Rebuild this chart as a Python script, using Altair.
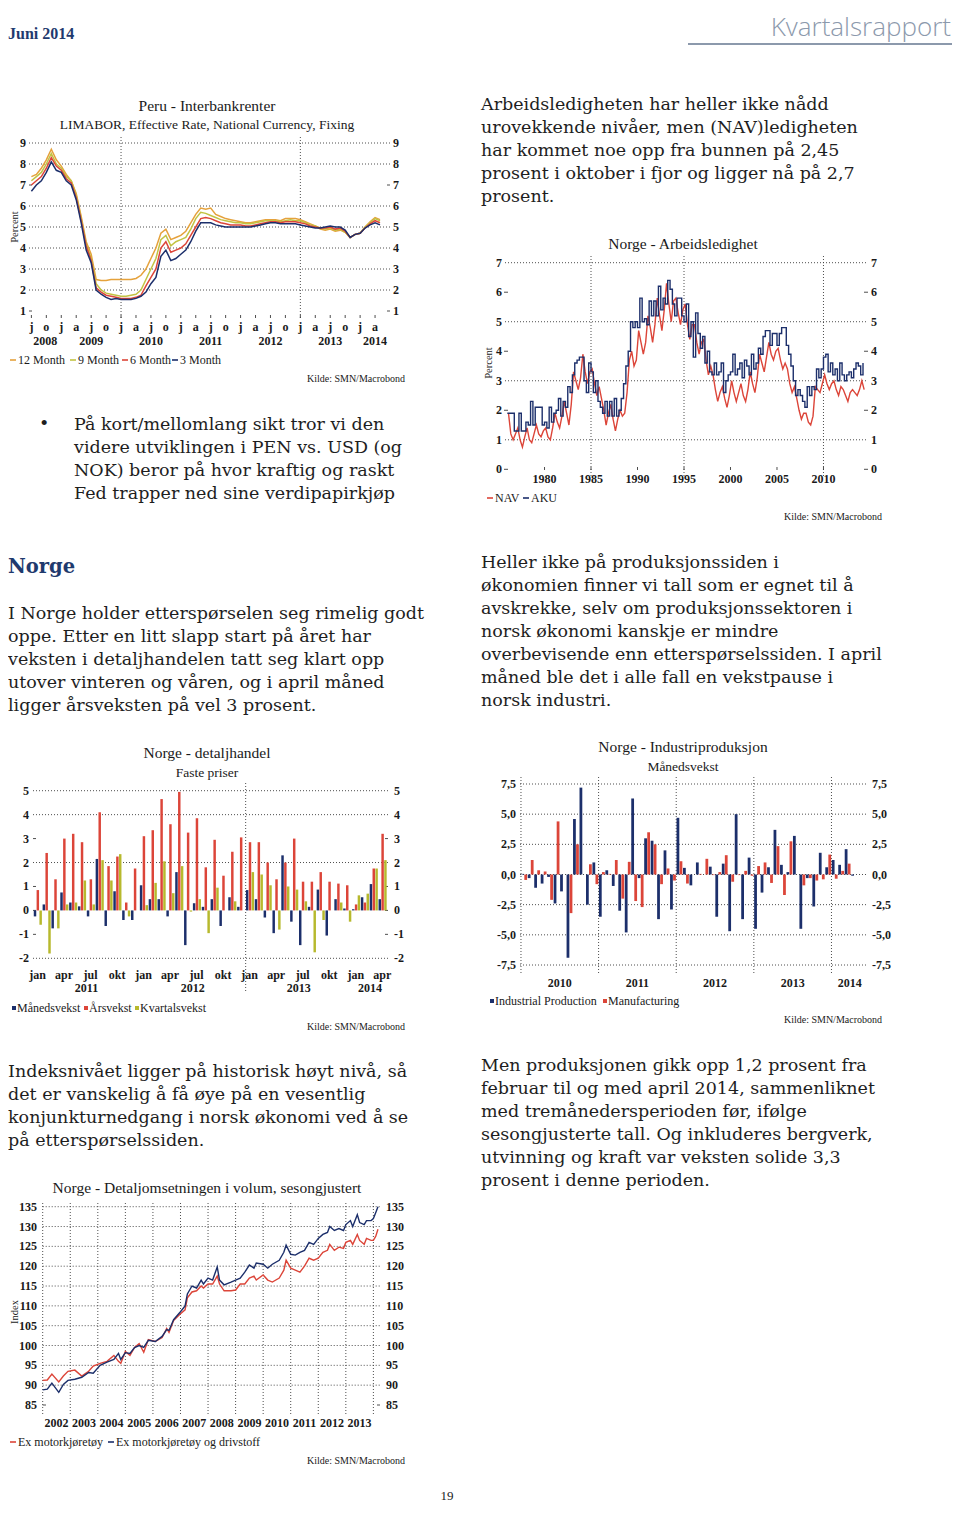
import altair as alt
import pandas as pd

# ======================= DATA =======================
# Peru - Interbankrenter, monthly Jul 2008 .. May 2014
PERU_START = (2008, 7)
PERU_12M = [7.4, 7.5, 7.8, 8.2, 8.7, 8.2,
            7.9, 7.5, 7.2, 6.6, 5.5, 4.3, 3.7, 2.5, 2.45, 2.45, 2.5, 2.5,
            2.5, 2.5, 2.5, 2.55, 2.7, 3.0, 3.5, 4.0, 4.7, 4.9, 4.4, 4.5,
            4.6, 4.8, 5.2, 5.6, 5.9, 5.85, 5.9, 5.6, 5.5, 5.4, 5.35, 5.3,
            5.25, 5.2, 5.2, 5.25, 5.3, 5.35, 5.35, 5.35, 5.3, 5.4, 5.4, 5.4,
            5.35, 5.25, 5.15, 5.05, 4.9, 4.85, 4.9, 4.8, 4.85, 4.75, 4.5, 4.65,
            4.7, 5.0, 5.25, 5.45, 5.35]
PERU_9M = [7.2, 7.4, 7.6, 8.0, 8.5, 8.0,
           7.8, 7.4, 7.2, 6.5, 5.4, 4.2, 3.5, 2.3, 2.0, 1.85, 1.8, 1.75,
           1.7, 1.7, 1.75, 1.8, 2.0, 2.5, 3.0, 3.5, 4.4, 4.6, 4.1, 4.3,
           4.4, 4.5, 4.9, 5.4, 5.7, 5.65, 5.55, 5.45, 5.35, 5.3, 5.25, 5.2,
           5.2, 5.15, 5.15, 5.2, 5.25, 5.3, 5.3, 5.3, 5.25, 5.3, 5.35, 5.3,
           5.3, 5.2, 5.1, 5.05, 4.95, 4.9, 4.95, 4.85, 4.9, 4.75, 4.5, 4.65,
           4.7, 5.0, 5.2, 5.4, 5.3]
PERU_6M = [7.0, 7.2, 7.4, 7.8, 8.3, 7.9,
           7.7, 7.3, 7.1, 6.4, 5.3, 4.1, 3.4, 2.1, 1.9, 1.75, 1.7, 1.65,
           1.6, 1.6, 1.6, 1.65, 1.75, 2.2, 2.6, 3.0, 4.0, 4.3, 3.8, 3.9,
           4.0, 4.2, 4.6, 5.0, 5.4, 5.45, 5.4, 5.3, 5.2, 5.15, 5.1, 5.1,
           5.1, 5.05, 5.05, 5.1, 5.15, 5.2, 5.25, 5.25, 5.2, 5.25, 5.25, 5.25,
           5.2, 5.15, 5.05, 5.0, 4.95, 4.95, 5.0, 4.9, 4.95, 4.8, 4.5, 4.65,
           4.7, 4.95, 5.15, 5.3, 5.2]
PERU_3M = [6.7, 7.0, 7.2, 7.6, 8.1, 7.7,
           7.6, 7.2, 7.0, 6.3, 5.2, 3.9, 3.3, 2.0, 1.8, 1.65, 1.55, 1.6,
           1.55, 1.55, 1.55, 1.6, 1.7, 1.9, 2.3, 2.6, 3.6, 3.9, 3.4, 3.5,
           3.7, 3.9, 4.3, 4.8, 5.2, 5.2, 5.2, 5.1, 5.05, 5.0, 5.0, 5.0,
           5.0, 5.0, 5.0, 5.05, 5.1, 5.15, 5.2, 5.2, 5.15, 5.15, 5.15, 5.15,
           5.1, 5.05, 5.0, 4.95, 4.95, 5.0, 5.05, 5.0, 5.0, 4.85, 4.5, 4.65,
           4.7, 4.95, 5.1, 5.2, 5.1]
PERU_SERIES = ["12 Month", "9 Month", "6 Month", "3 Month"]
PERU_YEARS = ["2008", "2009", "2010", "2011", "2012", "2013", "2014"]
PERU_Q_LETTERS = ["j", "o", "j", "a"]  # Jul, Oct, Jan, Apr

# Norge - Arbeidsledighet, quarterly 1976Q1 .. 2014Q2
ARB_START = 1976
NAV = [1.9, 1.2, 1.0, 1.2, 1.4, 1.0, 0.75, 1.1, 1.4, 1.0, 0.9, 1.2, 1.5, 1.2, 1.1, 1.3,
       1.4, 1.1, 1.0, 1.4, 1.9, 1.6, 1.4, 1.8, 2.3, 1.9, 1.5, 2.2, 3.3, 3.0, 2.7, 3.1,
       3.9, 3.3, 2.9, 3.3, 3.4, 2.9, 2.5, 2.8, 2.4, 2.0, 1.5, 1.9, 2.2, 1.7, 1.3, 1.7,
       2.0, 1.8, 1.9, 2.6, 3.7, 4.0, 3.5, 3.7, 4.7, 4.3, 3.9, 4.3, 5.2, 4.8, 4.3, 4.9,
       5.8, 5.2, 4.7, 5.4, 6.3, 5.6, 5.0, 5.7, 5.8, 5.3, 4.9, 5.4, 5.6, 4.9, 4.4, 4.9,
       4.9, 4.3, 3.9, 4.3, 4.4, 3.7, 3.2, 3.5, 3.2, 2.7, 2.3, 2.6, 2.8, 2.4, 2.1, 2.5,
       3.0, 2.6, 2.3, 2.6, 2.9, 2.5, 2.3, 2.7, 3.3, 2.9, 2.6, 3.1, 3.9, 3.6, 3.3, 3.8,
       4.3, 3.9, 3.7, 4.0, 4.1, 3.7, 3.4, 3.6, 3.4, 2.9, 2.6, 2.8, 2.4, 2.0, 1.7, 1.9,
       1.9, 1.6, 1.5, 1.8, 2.8, 2.7, 2.6, 2.9, 3.2, 2.9, 2.7, 2.9, 3.0, 2.7, 2.5, 2.8,
       2.7, 2.5, 2.3, 2.6, 2.7, 2.6, 2.5, 2.7, 3.0, 2.7]
AKU = [1.9, 1.9, 1.9, 1.3, 1.3, 1.9, 1.3, 1.3, 1.6, 1.5, 2.3, 1.5, 2.1, 2.1, 2.1, 1.5,
       1.6, 1.4, 2.1, 1.6, 1.9, 2.0, 2.4, 1.8, 2.3, 2.1, 2.8, 2.6, 3.2, 3.6, 3.7, 3.8,
       3.8, 3.0, 2.6, 3.6, 3.3, 2.6, 3.0, 2.3, 2.1, 1.9, 2.3, 1.8, 2.3, 1.8, 2.4, 1.8,
       2.0, 2.4, 2.9, 3.5, 4.0, 5.0, 4.8, 5.0, 4.8, 5.8, 5.0, 5.1, 4.9, 5.7, 5.2, 5.7,
       5.2, 6.2, 5.4, 5.8, 5.6, 6.4, 6.1, 5.6, 5.2, 5.8, 5.8, 5.2, 5.0, 5.6, 4.5, 5.0,
       3.8, 5.3, 4.6, 4.1, 4.5, 3.6, 4.0, 3.3, 3.2, 3.6, 3.2, 3.3, 3.6, 2.6, 3.0, 3.2,
       3.3, 3.9, 3.2, 3.4, 3.6, 3.1, 3.7, 3.5, 3.2, 3.9, 3.4, 3.6, 4.1, 3.9, 4.5, 4.7,
       4.7, 4.2, 4.6, 4.6, 4.2, 4.6, 4.8, 4.8, 4.2, 3.9, 3.5, 3.0, 2.5, 2.7, 2.5, 2.3,
       2.1, 2.8, 2.5, 2.8, 2.7, 3.4, 3.1, 3.4, 3.8, 3.9, 3.3, 3.6, 3.2, 3.4, 3.0, 3.6,
       3.2, 3.0, 3.2, 3.3, 3.1, 3.4, 3.6, 3.5, 3.2, 3.6]
ARB_YEARS = [1980, 1985, 1990, 1995, 2000, 2005, 2010]

# Norge - detaljhandel, monthly Jan 2011 .. Apr 2014
DH_MND = [-0.25, 0.25, -0.75, 0.75, 0.33, 0.17, -0.25, 2.15, -0.65, 0.8, -0.4, -0.4,
          1.05, 0.47, 0.47, -0.25, 1.6, -1.45, 0.3, 0.15, 0.47, -0.65, 0.55, 0.15,
          0.85, 0.47, -0.3, -0.95, 2.3, -0.47, -1.45, 0.15, 0.87, -1.05, 0.47, 0.08,
          0.05, 0.55, 1.1, 0.47]
DH_AAR = [0.85, 2.4, 1.3, 3.0, 3.2, 2.85, 1.3, 4.1, 1.85, 2.25, 0.33, 1.75,
          3.1, 3.35, 4.65, 3.6, 4.95, 3.25, 3.85, 1.8, 2.95, 1.45, 2.45, 3.05,
          2.85, 2.85, 2.0, 1.3, 2.0, 3.0, 1.2, 1.2, 1.6, 1.2, 1.12, 1.05,
          0.25, 0.33, 1.75, 3.2]
DH_KV = [-0.6, -1.8, -0.75, 0.25, 0.33, 1.25, 0.25, 2.1, 1.25, 2.35, -0.25, 0.0,
         0.22, 1.15, 2.05, 0.72, 1.85, -0.05, 0.47, -0.95, 0.95, 0.0, 0.38, 0.0,
         1.6, 1.5, 1.05, -0.8, 1.0, 0.87, 0.38, -1.75, -0.4, 0.0, 0.33, -0.47,
         0.63, 0.7, 1.75, 2.1]
DH_SERIES = ["Månedsvekst", "Årsvekst", "Kvartalsvekst"]
DH_MONTH_LABELS = ["jan", "apr", "jul", "okt"]
DH_YEARS = ["2011", "2012", "2013", "2014"]

# Norge - Industriproduksjon, monthly Jan 2010 .. Apr 2014
IP = [0.05, -0.3, -1.1, -0.75, -0.2, -2.4, -1.4, -6.9, 4.6, 7.2, -2.5, 1.0,
      -3.5, 0.35, -0.95, -3.0, -4.8, 6.3, -0.3, 3.0, 2.8, -3.7, 2.0, -2.9,
      4.7, 0.55, -0.9, 1.0, 0.0, 0.65, -3.5, 0.9, -4.7, 5.0, -3.7, 1.4,
      -4.5, -1.5, 0.6, 3.7, 0.8, 0.2, 3.2, -4.5, -0.3, -2.65, 1.8, 0.6,
      1.2, 0.8, 2.1, -0.1]
MF = [-0.45, 1.2, 0.35, 0.25, -2.1, 4.4, 0.0, -3.2, 2.5, 0.0, 0.85, -0.8,
      0.2, 0.05, 1.2, -2.0, 1.05, -2.2, -2.7, 3.5, 2.5, -0.8, 0.5, -0.5,
      1.1, -0.75, 0.0, 0.05, 1.3, -0.05, 0.2, 1.6, -0.6, -0.05, 0.3, -0.1,
      0.7, 1.0, -0.7, 2.35, -1.7, 2.75, 0.0, -0.9, -0.3, -0.5, -0.4, 1.65,
      -0.35, 0.3, 0.9, 0.0]
IP_SERIES = ["Industrial Production", "Manufacturing"]
IP_YEARS = ["2010", "2011", "2012", "2013", "2014"]
IP_TICKS = [-7.5, -5.0, -2.5, 0.0, 2.5, 5.0, 7.5]

# Norge - Detaljomsetningen i volum, sesongjustert
DO_DATES = ["2002-01", "2002-03", "2002-05", "2002-08", "2002-10", "2002-12",
            "2003-03", "2003-06", "2003-09", "2003-11",
            "2004-02", "2004-05", "2004-08", "2004-10", "2004-11",
            "2005-01", "2005-03", "2005-05", "2005-07", "2005-09", "2005-11",
            "2006-02", "2006-05", "2006-07", "2006-08", "2006-10",
            "2007-01", "2007-03", "2007-04", "2007-06", "2007-08", "2007-10", "2007-11",
            "2008-01", "2008-03", "2008-05", "2008-06", "2008-08", "2008-11",
            "2009-01", "2009-03", "2009-05", "2009-07", "2009-09", "2009-10",
            "2010-01", "2010-03", "2010-05", "2010-08", "2010-10", "2010-11",
            "2011-01", "2011-03", "2011-05", "2011-07", "2011-09", "2011-11",
            "2012-01", "2012-03", "2012-05", "2012-06", "2012-08", "2012-10", "2012-12",
            "2013-01", "2013-03", "2013-04", "2013-06", "2013-07", "2013-09", "2013-10", "2013-12",
            "2014-01", "2014-02", "2014-03"]
DO_EX_MOTOR = [91.2, 91.3, 92.8, 90.8, 92.3, 93.5, 93.8, 92.3, 93.5, 94.8,
               95.5, 96.0, 97.5, 96.0, 95.5, 98.5, 97.5, 99.5, 100.5, 98.3, 101.5,
               101.0, 102.0, 104.3, 103.3, 106.3, 108.0, 109.0, 112.0, 113.5, 113.8, 115.0, 114.5,
               115.5, 115.5, 117.5, 115.5, 113.8, 113.8, 114.0, 115.5, 115.5, 117.0, 117.5, 116.5,
               117.8, 116.5, 116.0, 117.0, 119.0, 121.5, 119.5, 119.0, 118.5, 120.0, 122.0, 121.5,
               122.0, 123.5, 124.0, 125.5, 124.0, 124.8, 124.5,
               126.0, 126.5, 125.5, 128.0, 126.5, 125.5, 127.0, 126.5, 126.5, 127.5, 129.3]
DO_EX_MOTOR_DRIV = [88.8, 89.0, 90.5, 88.2, 90.2, 91.2, 91.5, 92.0, 93.2, 93.0,
                    95.0, 95.8, 96.5, 98.0, 96.5, 98.2, 98.0, 99.5, 100.0, 99.5, 101.3,
                    101.0, 102.3, 104.0, 103.8, 106.5, 108.5, 110.0, 113.0, 115.0, 114.5, 116.5, 115.5,
                    117.0, 116.5, 119.8, 116.5, 115.3, 116.0, 116.5, 117.0, 118.5, 120.3, 119.5, 120.8,
                    120.5, 119.5, 120.5, 121.5, 123.5, 125.3, 123.0, 122.8, 123.5, 124.0, 126.0, 125.5,
                    127.0, 128.0, 128.5, 130.0, 129.0, 129.5, 129.0,
                    130.5, 131.5, 130.0, 133.0, 131.0, 130.5, 131.5, 131.5, 132.0, 133.5, 135.0]
DO_SERIES = ["Ex motorkjøretøy", "Ex motorkjøretøy og drivstoff"]
DO_YEARS = [str(y) for y in range(2002, 2014)]

# ======================= STYLE / LAYOUT =======================
OX, OY = 8, 8
W, H = 944, 1496
NAVY = "#1c2f6b"
RED = "#dc4539"
OLIVE = "#b7b92d"
ORANGE = "#e5a23c"
YGREEN = "#c2c343"
GRID = "#3a3a3a"
TXT = "#1a1a1a"
BODY = "#1e1e1e"
FC = "Liberation Serif"
FB = "DejaVu Serif"
TICK = 12
TITLE = 15.5
SUB = 13.5
LEG = 12

layers = []


def xscale(dom, x0, x1):
    return alt.Scale(domain=list(dom), range=[x0 - OX, x1 - OX], nice=False, zero=False)


def yscale(dom, yb, yt):
    return alt.Scale(domain=list(dom), range=[yb - OY, yt - OY], nice=False, zero=False)


def hrules(vals, ys, x0, x1, dash=True, color=GRID, width=0.9):
    kw = dict(color=color, strokeWidth=width)
    if dash:
        kw["strokeDash"] = [1, 2]
    return alt.Chart(pd.DataFrame({"v": list(vals)})).mark_rule(**kw).encode(
        y=alt.Y("v:Q", scale=ys, axis=None), x=alt.value(x0 - OX), x2=alt.value(x1 - OX))


def vrules(vals, xs, y0, y1, dash=True, color=GRID, width=0.9):
    kw = dict(color=color, strokeWidth=width)
    if dash:
        kw["strokeDash"] = [1, 2]
    return alt.Chart(pd.DataFrame({"v": list(vals)})).mark_rule(**kw).encode(
        x=alt.X("v:Q", scale=xs, axis=None), y=alt.value(y0 - OY), y2=alt.value(y1 - OY))


def ytexts(vals, labels, ys, xpos, align, size=TICK):
    df = pd.DataFrame({"v": list(vals), "l": list(labels)})
    return alt.Chart(df).mark_text(align=align, baseline="middle", font=FC, fontSize=size,
                                   fontWeight="bold", color=TXT).encode(
        y=alt.Y("v:Q", scale=ys, axis=None), x=alt.value(xpos - OX), text="l:N")


def xtexts(vals, labels, xs, ypos, size=TICK):
    df = pd.DataFrame({"v": list(vals), "l": list(labels)})
    return alt.Chart(df).mark_text(align="center", baseline="middle", font=FC, fontSize=size,
                                   fontWeight="bold", color=TXT).encode(
        x=alt.X("v:Q", scale=xs, axis=None), y=alt.value(ypos - OY), text="l:N")


def line(df, xs, ys, color, width=1.3, interp="linear"):
    return alt.Chart(df).mark_line(color=color, strokeWidth=width, interpolate=interp).encode(
        x=alt.X("t:Q", scale=xs, axis=None), y=alt.Y("v:Q", scale=ys, axis=None))


def bars(df, xs, ys, color):
    return alt.Chart(df).mark_rect(color=color).encode(
        x=alt.X("a:Q", scale=xs, axis=None), x2="b:Q",
        y=alt.Y("v:Q", scale=ys, axis=None), y2="z:Q")


def page_text(rows, align="left", size=17.5, font=FB, weight="normal", color=BODY,
              angle=0, baseline="middle"):
    df = pd.DataFrame(rows, columns=["x", "y", "t"])
    df["x"] = df["x"] - OX
    df["y"] = df["y"] - OY
    return alt.Chart(df).mark_text(align=align, baseline=baseline, font=font, fontSize=size,
                                   fontWeight=weight, color=color, angle=angle).encode(
        x=alt.X("x:Q", scale=None, axis=None), y=alt.Y("y:Q", scale=None, axis=None), text="t:N")


def page_rules(rows, width=1.6):
    df = pd.DataFrame(rows, columns=["x", "x2", "y", "c"])
    df["x"] -= OX
    df["x2"] -= OX
    df["y"] -= OY
    return alt.Chart(df).mark_rule(strokeWidth=width).encode(
        x=alt.X("x:Q", scale=None, axis=None), x2="x2:Q",
        y=alt.Y("y:Q", scale=None, axis=None), color=alt.Color("c:N", scale=None))


def page_squares(rows):
    df = pd.DataFrame(rows, columns=["x", "x2", "y", "y2", "c"])
    df["x"] -= OX
    df["x2"] -= OX
    df["y"] -= OY
    df["y2"] -= OY
    return alt.Chart(df).mark_rect().encode(
        x=alt.X("x:Q", scale=None, axis=None), x2="x2:Q",
        y=alt.Y("y:Q", scale=None, axis=None), y2="y2:Q", color=alt.Color("c:N", scale=None))


def paragraph(lines, x, y0, lh=23):
    return [(x, y0 + i * lh, s) for i, s in enumerate(lines)]


def ctext(rows, align="left", size=LEG, angle=0):
    return page_text(rows, align=align, size=size, font=FC, color=TXT, angle=angle)


def kilde(x, y):
    return ctext([(x, y, "Kilde: SMN/Macrobond")], align="right", size=10)


# ======================= HEADER / TEXT =======================
layers.append(page_text([(8, 34, "Juni 2014")], size=16, font=FC, weight="bold", color="#1f3a6e"))
layers.append(page_text([(951, 36, "Kvartalsrapport")], align="right", size=26, font="Open Sans",
                        weight=300, color="#8c99ac", baseline="alphabetic"))
layers.append(page_rules([(688, 952, 44, "#8c99ac")], width=2))

body_rows = []
body_rows += paragraph(["Arbeidsledigheten har heller ikke nådd",
                        "urovekkende nivåer, men (NAV)ledigheten",
                        "har kommet noe opp fra bunnen på 2,45",
                        "prosent i oktober i fjor og ligger nå på 2,7",
                        "prosent."], 481, 105)
body_rows += paragraph(["På kort/mellomlang sikt tror vi den",
                        "videre utviklingen i PEN vs. USD (og",
                        "NOK) beror på hvor kraftig og raskt",
                        "Fed trapper ned sine verdipapirkjøp"], 74, 425)
body_rows += paragraph(["I Norge holder etterspørselen seg rimelig godt",
                        "oppe. Etter en litt slapp start på året har",
                        "veksten i detaljhandelen tatt seg klart opp",
                        "utover vinteren og våren, og i april måned",
                        "ligger årsveksten på vel 3 prosent."], 8, 614)
body_rows += paragraph(["Heller ikke på produksjonssiden i",
                        "økonomien finner vi tall som er egnet til å",
                        "avskrekke, selv om produksjonssektoren i",
                        "norsk økonomi kanskje er mindre",
                        "overbevisende enn etterspørselssiden. I april",
                        "måned ble det i alle fall en vekstpause i",
                        "norsk industri."], 481, 563)
body_rows += paragraph(["Indeksnivået ligger på historisk høyt nivå, så",
                        "det er vanskelig å få øye på en vesentlig",
                        "konjunkturnedgang i norsk økonomi ved å se",
                        "på etterspørselssiden."], 8, 1072)
body_rows += paragraph(["Men produksjonen gikk opp 1,2 prosent fra",
                        "februar til og med april 2014, sammenliknet",
                        "med tremånedersperioden før, ifølge",
                        "sesongjusterte tall. Og inkluderes bergverk,",
                        "utvinning og kraft var veksten solide 3,3",
                        "prosent i denne perioden."], 481, 1066)
body_rows.append((39, 424, "•"))
layers.append(page_text(body_rows))
layers.append(page_text([(8, 567, "Norge")], size=19.5, weight="bold", color="#1f3a6e"))
layers.append(page_text([(447, 1503, "19")], align="center", size=13, font=FC, color=TXT,
                        baseline="bottom"))

# ======================= PERU =======================
xs = xscale([2008.46, 2014.5], 29, 390)
ys = yscale([1, 9], 311, 143)
layers += [
    hrules([2, 3, 4, 5, 6, 8, 9], ys, 29, 390),
    hrules([1, 7], ys, 29, 32, dash=False), hrules([1, 7], ys, 387, 390, dash=False),
    vrules([2010, 2013], xs, 137, 320),
    ytexts(range(1, 10), [str(v) for v in range(1, 10)], ys, 26, "right"),
    ytexts(range(1, 10), [str(v) for v in range(1, 10)], ys, 393, "left"),
]
q_t = [2008.5 + 0.25 * k for k in range(24)]
layers.append(xtexts(q_t, [PERU_Q_LETTERS[k % 4] for k in range(24)], xs, 327))
layers.append(vrules(q_t, xs, 315, 318, dash=False))
ymid = [(max(2008.46, y) + min(2014.5, y + 1)) / 2 for y in range(2008, 2015)]
layers.append(xtexts(ymid, PERU_YEARS, xs, 341))
t_peru = [PERU_START[0] + (PERU_START[1] - 1 + k) / 12 for k in range(len(PERU_3M))]
for vals, col in [(PERU_12M, ORANGE), (PERU_9M, YGREEN), (PERU_6M, RED), (PERU_3M, NAVY)]:
    layers.append(line(pd.DataFrame({"t": t_peru, "v": vals}), xs, ys, col, width=1.5))
layers.append(ctext([(207, 106, "Peru - Interbankrenter")], align="center", size=TITLE))
layers.append(ctext([(207, 125, "LIMABOR, Effective Rate, National Currency, Fixing")],
                    align="center", size=SUB))
layers.append(ctext([(15, 227, "Percent")], align="center", size=10.5, angle=270))
layers.append(page_rules([(10, 16, 360, ORANGE), (70, 76, 360, YGREEN), (122, 128, 360, RED),
                          (172, 178, 360, NAVY)]))
layers.append(ctext([(18, 360, PERU_SERIES[0]), (78, 360, PERU_SERIES[1]),
                     (130, 360, PERU_SERIES[2]), (180, 360, PERU_SERIES[3])]))
layers.append(kilde(405, 379))

# ======================= ARBEIDSLEDIGHET =======================
xs = xscale([1975.75, 2014.68], 505, 867)
ys = yscale([0, 7], 469.3, 262.7)
layers += [
    hrules([1, 3, 5, 7], ys, 505, 867),
    hrules([0, 2, 4, 6], ys, 504, 508, dash=False), hrules([0, 2, 4, 6], ys, 864, 868, dash=False),
    vrules([1985, 1995, 2010], xs, 256, 478),
    ytexts(range(0, 8), [str(v) for v in range(0, 8)], ys, 502, "right"),
    ytexts(range(0, 8), [str(v) for v in range(0, 8)], ys, 871, "left"),
    xtexts(ARB_YEARS, [str(y) for y in ARB_YEARS], xs, 479),
    vrules(ARB_YEARS, xs, 467, 470, dash=False),
]
t_nav = [ARB_START + (k + 0.5) / 4 for k in range(len(NAV))]
t_aku = [ARB_START + k / 4 for k in range(len(AKU))]
layers.append(line(pd.DataFrame({"t": t_nav, "v": NAV}), xs, ys, RED, width=1.4))
layers.append(line(pd.DataFrame({"t": t_aku, "v": AKU}), xs, ys, NAVY, width=1.4, interp="step-after"))
layers.append(ctext([(683, 244, "Norge - Arbeidsledighet")], align="center", size=TITLE))
layers.append(ctext([(489, 363, "Percent")], align="center", size=10.5, angle=270))
layers.append(page_rules([(487, 493, 498, RED), (523, 529, 498, NAVY)]))
layers.append(ctext([(495, 498, "NAV"), (531, 498, "AKU")]))
layers.append(kilde(882, 517))

# ======================= DETALJHANDEL =======================
xs = xscale([0, 40.1], 33.5, 388)
ys = yscale([-2, 5], 958.3, 790.7)
layers += [
    hrules([5, 4, 2, -2], ys, 33, 388),
    hrules([3, 1, 0, -1], ys, 33, 36, dash=False), hrules([3, 1, 0, -1], ys, 385, 388, dash=False),
    vrules([24], xs, 783, 993),
    ytexts(range(-2, 6), [str(v) for v in range(-2, 6)], ys, 29, "right"),
    ytexts(range(-2, 6), [str(v) for v in range(-2, 6)], ys, 394, "left"),
]
n_dh = len(DH_MND)
mpos = [i + 0.45 for i in range(0, n_dh, 3)]
layers.append(xtexts(mpos, [DH_MONTH_LABELS[(i // 3) % 4] for i in range(0, n_dh, 3)], xs, 975))
layers.append(xtexts([6, 18, 30, (36 + 40.1) / 2], DH_YEARS, xs, 988))
for s, (vals, col) in enumerate([(DH_MND, NAVY), (DH_AAR, RED), (DH_KV, OLIVE)]):
    a = [i + 0.03 + s * 0.32 for i in range(n_dh)]
    df = pd.DataFrame({"a": a, "b": [v + 0.28 for v in a], "v": vals, "z": [0.0] * n_dh})
    layers.append(bars(df, xs, ys, col))
layers.append(ctext([(207, 753, "Norge - detaljhandel")], align="center", size=TITLE))
layers.append(ctext([(207, 773, "Faste priser")], align="center", size=SUB))
layers.append(page_squares([(12, 16, 1006, 1010, NAVY), (84, 88, 1006, 1010, RED), (135, 139, 1006, 1010, OLIVE)]))
layers.append(ctext([(17, 1008, DH_SERIES[0]), (89, 1008, DH_SERIES[1]), (140, 1008, DH_SERIES[2])]))
layers.append(kilde(405, 1027))

# ======================= INDUSTRIPRODUKSJON =======================
xs = xscale([-0.15, 53.65], 520, 868)
ys = yscale([-7.5, 7.5], 965, 784)
ip_lab = [("%.1f" % v).replace(".", ",") for v in IP_TICKS]
layers += [
    hrules(IP_TICKS, ys, 520, 868),
    vrules([0, 12, 24, 36, 48], xs, 777, 973),
    ytexts(IP_TICKS, ip_lab, ys, 516, "right"),
    ytexts(IP_TICKS, ip_lab, ys, 872, "left"),
    xtexts([6, 18, 30, 42, (48 + 53.65) / 2], IP_YEARS, xs, 983),
]
n_ip = len(IP)
for s, (vals, col) in enumerate([(IP, NAVY), (MF, RED)]):
    a = [i + 0.05 + s * 0.47 for i in range(n_ip)]
    df = pd.DataFrame({"a": a, "b": [v + 0.43 for v in a], "v": vals, "z": [0.0] * n_ip})
    layers.append(bars(df, xs, ys, col))
layers.append(ctext([(683, 747, "Norge - Industriproduksjon")], align="center", size=TITLE))
layers.append(ctext([(683, 767, "Månedsvekst")], align="center", size=SUB))
layers.append(page_squares([(490, 494, 999, 1003, NAVY), (603, 607, 999, 1003, RED)]))
layers.append(ctext([(495, 1001, IP_SERIES[0]), (608, 1001, IP_SERIES[1])]))
layers.append(kilde(882, 1020))

# ======================= DETALJOMSETNING =======================
xs = xscale([2002, 2014.24], 42.7, 380)
ys = yscale([85, 135], 1405, 1206.7)
do_ticks = list(range(85, 140, 5))
layers += [
    hrules(list(range(90, 140, 5)), ys, 42.7, 380),
    hrules([85], ys, 42.7, 46, dash=False), hrules([85], ys, 377, 380, dash=False),
    vrules(list(range(2002, 2015)), xs, 1203, 1415),
    ytexts(do_ticks, [str(v) for v in do_ticks], ys, 37, "right"),
    ytexts(do_ticks, [str(v) for v in do_ticks], ys, 386, "left"),
    xtexts([int(y) + 0.5 for y in DO_YEARS], DO_YEARS, xs, 1423),
]
t_do = [int(d[:4]) + (int(d[5:]) - 1) / 12 for d in DO_DATES]
layers.append(line(pd.DataFrame({"t": t_do, "v": DO_EX_MOTOR}), xs, ys, RED, width=1.4))
layers.append(line(pd.DataFrame({"t": t_do, "v": DO_EX_MOTOR_DRIV}), xs, ys, NAVY, width=1.4))
layers.append(ctext([(207, 1188, "Norge - Detaljomsetningen i volum, sesongjustert")],
                    align="center", size=TITLE))
layers.append(ctext([(15, 1312, "Index")], align="center", size=10.5, angle=270))
layers.append(page_rules([(10, 16, 1442, RED), (108, 114, 1442, NAVY)]))
layers.append(ctext([(18, 1442, DO_SERIES[0]), (116, 1442, DO_SERIES[1])]))
layers.append(kilde(405, 1461))

chart = alt.layer(*layers).resolve_scale(x="independent", y="independent").properties(
    width=W, height=H, padding=0, autosize=alt.AutoSizeParams(type="none"),
    background="white",
).configure_view(stroke=None)

chart.save("out.html", embed_options={"renderer": "svg", "actions": False})
